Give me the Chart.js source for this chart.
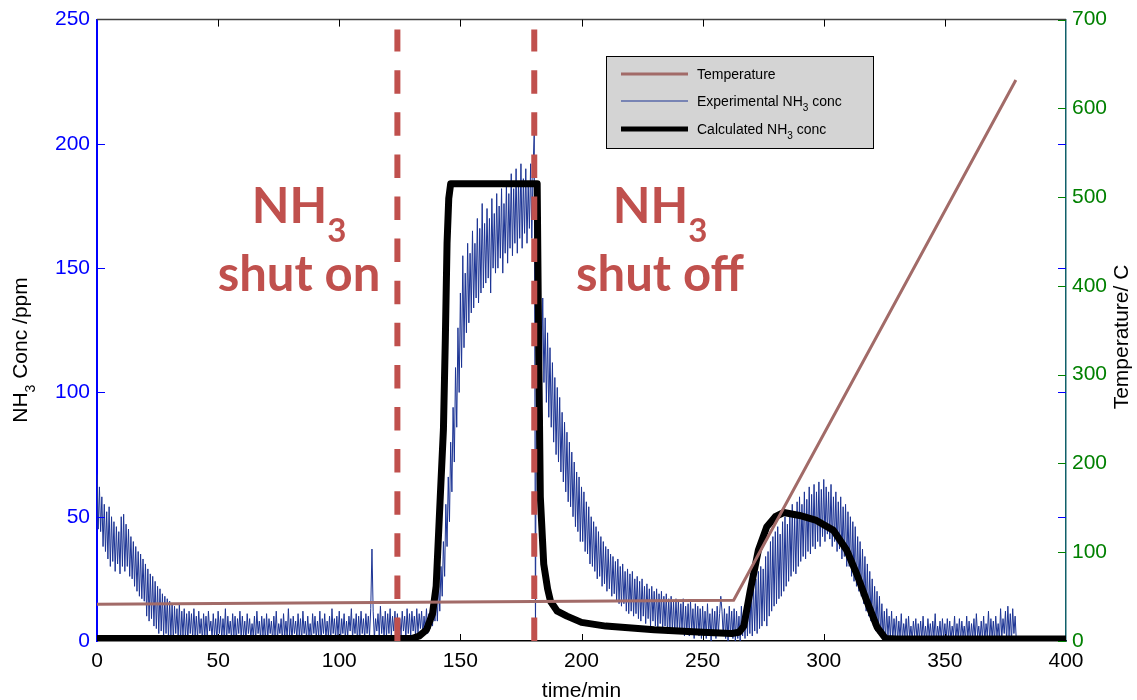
<!DOCTYPE html>
<html>
<head>
<meta charset="utf-8">
<script src="https://cdn.jsdelivr.net/npm/chart.js@4.4.1/dist/chart.umd.min.js"></script>
<style>
  html, body { margin: 0; padding: 0; background: #fff; }
  #wrap { width: 1137px; height: 700px; }
</style>
</head>
<body>
<div id="wrap"><canvas id="c" width="1137" height="700"></canvas></div>
<script>
// NH3 uptake / release: experimental vs calculated concentration, with temperature ramp

// experimental NH3 trace (ppm), one sample every half minute from t = 0
const expStep = 0.5;
const expConc = [
  67,45,62,44,58,38,55,36,52,33,54,30,50,32,48,28,46,31,44,27,
  50,30,51,28,47,30,45,26,42,25,40,22,38,20,36,18,35,17,33,16,
  31,10,29,8,27,9,26,6,24,5,22,3,21,4,19,2,18,3,17,1,
  16,2,15,0,14,3,13,1,15,0,12,2,13,1,11,0,12,3,11,1,
  13,2,10,1,12,3,9,0,11,2,10,1,12,4,8,1,11,2,9,0,
  12,3,10,1,9,2,13,0,10,3,8,1,11,2,10,0,9,3,12,1,
  10,2,8,0,11,3,9,1,7,2,10,0,12,3,8,1,10,2,9,0,
  11,1,9,3,8,0,10,2,12,1,7,3,9,0,11,2,8,1,13,2,
  9,0,10,3,8,1,11,2,9,0,12,3,8,1,10,2,7,0,11,3,
  10,1,8,2,12,0,9,3,11,1,8,2,10,0,13,3,9,1,10,2,
  12,0,9,3,11,1,8,2,10,4,13,1,9,3,11,0,10,2,12,3,
  9,1,11,3,10,2,13,37,12,1,9,4,11,2,14,3,10,1,12,2,
  11,3,13,2,10,4,12,1,11,3,9,2,12,4,10,1,13,3,11,2,
  12,4,10,2,13,3,11,5,12,2,10,4,13,3,11,5,14,6,16,8,
  18,8,24,12,30,18,40,26,55,38,66,48,80,60,94,72,110,86,126,100,
  140,110,155,118,148,124,160,128,156,132,165,134,160,138,170,136,166,140,176,142,
  168,144,174,146,170,140,178,150,172,148,180,150,175,154,182,148,176,156,184,152,
  180,158,188,155,182,160,190,156,185,162,192,158,186,164,190,160,184,166,192,162,
  190,205,0,160,150,125,145,110,138,104,130,96,124,90,118,86,112,80,106,75,
  102,72,98,68,92,64,88,60,84,56,80,54,76,50,72,46,68,44,66,40,
  62,40,60,36,56,35,54,31,50,30,48,28,46,25,44,26,42,22,40,23,
  38,20,37,21,35,18,34,19,32,16,33,15,30,14,31,15,28,12,29,11,
  27,12,28,10,25,11,26,9,24,8,25,10,22,7,23,9,21,6,22,8,
  20,6,21,5,19,7,20,4,18,6,19,3,17,5,18,4,16,3,17,5,
  16,3,15,4,17,2,14,3,15,2,16,4,13,1,15,3,14,2,13,1,
  14,2,12,1,15,3,11,0,13,2,12,1,14,3,11,18,12,2,13,1,
  11,0,14,2,12,1,13,0,12,1,10,0,14,2,12,1,16,2,18,3,
  20,2,23,4,25,3,28,5,30,6,29,8,34,6,36,10,40,12,42,14,
  44,15,46,17,43,18,48,20,50,22,47,24,52,26,55,28,50,27,56,30,
  58,32,55,34,60,33,57,36,62,35,59,38,63,37,60,40,64,38,61,42,
  65,40,62,43,60,41,63,38,58,40,60,36,56,37,58,33,54,34,55,30,
  52,30,50,26,48,24,46,22,42,20,40,18,37,15,34,12,31,10,28,8,
  25,6,22,4,20,3,18,2,15,1,12,0,13,2,10,1,12,0,9,2,
  10,0,8,1,11,0,7,2,9,0,10,1,6,0,8,2,9,0,7,1,
  8,0,10,1,6,0,9,2,7,0,8,1,11,0,6,2,8,0,9,1,
  7,0,9,1,8,0,6,2,10,0,7,1,9,0,8,2,6,0,10,1,
  8,0,7,1,9,0,11,2,6,0,8,1,10,0,7,2,12,0,9,1,
  8,0,10,2,7,0,13,1,9,3,12,0,14,2,11,0,13,3,10,0
];

// calculated NH3 concentration (ppm)
const calcTime = [0, 130, 133, 136, 138.5, 140, 141.7, 143, 143.8, 144.5, 145.2, 146,
  181.7, 182.3, 183, 184.4, 186, 187.2, 190, 194, 200, 210, 230, 250, 262, 265, 267,
  269.6, 273, 276.5, 280, 283.5, 290, 297, 304, 309.5, 313.6, 317.6, 322, 325.5, 330, 400];
const calcConc = [1, 1, 2, 4.5, 11, 22, 58, 85, 122, 160, 178, 184,
  184, 120, 58, 31, 21, 16, 12, 10, 7.5, 6, 4.5, 3.5, 3, 3.5, 6,
  20, 36.5, 46, 50, 51.7, 50.5, 48.5, 44.5, 36.5, 27, 16.5, 5.6, 1, 0.8, 0.8];

// temperature programme (C)
const tempTime = [0, 262.8, 379.3];
const tempC = [41.5, 46, 632];

// NH3 switched on / off (min)
const markerTimes = [124, 180.5];
const markerTop = 246;

const FONT = '"Liberation Sans", Arial, sans-serif';
const RED = '#c0504d';

function pts(xs, ys) {
  return xs.map(function (x, i) { return { x: x, y: ys[i] }; });
}

// text with subscripts; parts = [[text, isSub], ...]
function drawParts(ctx, parts, x, y, size, align) {
  const sub = Math.round(size * 0.68);
  const fam = ctx._fam;
  let total = 0;
  const w = parts.map(function (p) {
    ctx.font = ctx._weight + (p[1] ? sub : size) + 'px ' + fam;
    const m = ctx.measureText(p[0]).width;
    total += m;
    return m;
  });
  let cx = align === 'center' ? x - total / 2 : x;
  ctx.textAlign = 'left';
  ctx.textBaseline = 'alphabetic';
  parts.forEach(function (p, i) {
    ctx.font = ctx._weight + (p[1] ? sub : size) + 'px ' + fam;
    ctx.fillText(p[0], cx, y + (p[1] ? size * 0.38 : 0));
    cx += w[i];
  });
}

const decor = {
  id: 'decor',
  afterDraw: function (chart) {
    const ctx = chart.ctx, a = chart.chartArea;
    const xs = chart.scales.x, ys = chart.scales.y, y2 = chart.scales.y2;
    ctx.save();

    // top frame line
    ctx.strokeStyle = '#404040';
    ctx.lineWidth = 1.5;
    ctx.beginPath(); ctx.moveTo(a.left, a.top); ctx.lineTo(a.right, a.top); ctx.stroke();

    // inward tick marks
    ctx.lineWidth = 1;
    ctx.strokeStyle = '#000';
    for (let t = 50; t < 400; t += 50) {
      const px = Math.round(xs.getPixelForValue(t)) + 0.5;
      ctx.beginPath();
      ctx.moveTo(px, a.bottom); ctx.lineTo(px, a.bottom - 7);
      ctx.moveTo(px, a.top); ctx.lineTo(px, a.top + 7);
      ctx.stroke();
    }
    ctx.strokeStyle = '#0000ff';
    for (let v = 50; v < 250; v += 50) {
      const py = Math.round(ys.getPixelForValue(v)) + 0.5;
      ctx.beginPath();
      ctx.moveTo(a.left, py); ctx.lineTo(a.left + 8, py);
      ctx.moveTo(a.right, py); ctx.lineTo(a.right - 8, py);
      ctx.stroke();
    }
    ctx.strokeStyle = '#008000';
    for (let v = 0; v <= 700; v += 100) {
      const py = Math.round(y2.getPixelForValue(v)) + 0.5;
      ctx.beginPath(); ctx.moveTo(a.right, py); ctx.lineTo(a.right - 8, py); ctx.stroke();
    }

    // annotations
    ctx._fam = 'Lato, "Open Sans", sans-serif';
    ctx._weight = 'bold ';
    ctx.fillStyle = RED;
    const b1 = xs.getPixelForValue(83.4), b2 = xs.getPixelForValue(232.4);
    drawParts(ctx, [['NH', false], ['3', true]], b1, 223, 49, 'center');
    drawParts(ctx, [['shut on', false]], b1, 291, 49, 'center');
    drawParts(ctx, [['NH', false], ['3', true]], b2, 223, 49, 'center');
    drawParts(ctx, [['shut off', false]], b2, 291, 49, 'center');

    // axis titles
    ctx._fam = FONT;
    ctx._weight = '';
    ctx.fillStyle = '#000';
    drawParts(ctx, [['time/min', false]], (a.left + a.right) / 2, 697, 21, 'center');
    ctx.save();
    ctx.translate(27, 350);
    ctx.rotate(-Math.PI / 2);
    drawParts(ctx, [['NH', false], ['3', true], [' Conc /ppm', false]], 0, 0, 21, 'center');
    ctx.restore();
    ctx.save();
    ctx.translate(1128, 337);
    ctx.rotate(-Math.PI / 2);
    drawParts(ctx, [['Temperature/ C', false]], 0, 0, 21, 'center');
    ctx.restore();

    // legend box
    ctx.fillStyle = '#d4d4d4';
    ctx.fillRect(606, 56, 267, 92);
    ctx.strokeStyle = '#000';
    ctx.lineWidth = 1;
    ctx.strokeRect(606.5, 56.5, 267, 92);
    const rows = [
      { y: 74, color: '#a26b68', w: 3, parts: [['Temperature', false]] },
      { y: 101, color: '#1c3494', w: 1, parts: [['Experimental NH', false], ['3', true], [' conc', false]] },
      { y: 129, color: '#000', w: 5, parts: [['Calculated NH', false], ['3', true], [' conc', false]] }
    ];
    rows.forEach(function (r) {
      ctx.strokeStyle = r.color;
      ctx.lineWidth = r.w;
      ctx.beginPath(); ctx.moveTo(621, r.y); ctx.lineTo(688, r.y); ctx.stroke();
      ctx.fillStyle = '#000';
      drawParts(ctx, r.parts, 697, r.y + 5, 14, 'left');
    });

    ctx.restore();
  }
};

const markerSets = markerTimes.map(function (t) {
  return {
    label: 'marker',
    data: pts([t, t], [0, markerTop]),
    yAxisID: 'y',
    borderColor: RED,
    borderWidth: 6,
    borderDash: [23.5, 18.6],
    borderCapStyle: 'butt',
    pointRadius: 0,
    order: 0
  };
});

new Chart(document.getElementById('c').getContext('2d'), {
  type: 'line',
  data: {
    datasets: markerSets.concat([
      {
        label: 'Temperature',
        data: pts(tempTime, tempC),
        yAxisID: 'y2',
        borderColor: '#a26b68',
        borderWidth: 3,
        pointRadius: 0,
        order: 1
      },
      {
        label: 'Calculated NH3 conc',
        data: pts(calcTime, calcConc),
        yAxisID: 'y',
        borderColor: '#000',
        borderWidth: 7,
        borderJoinStyle: 'round',
        pointRadius: 0,
        order: 2
      },
      {
        label: 'Experimental NH3 conc',
        data: expConc.map(function (v, i) { return { x: i * expStep, y: v }; }),
        yAxisID: 'y',
        borderColor: '#1c3494',
        borderWidth: 1,
        pointRadius: 0,
        order: 3
      }
    ])
  },
  options: {
    responsive: false,
    devicePixelRatio: 1,
    animation: false,
    layout: { padding: { top: 18 } },
    plugins: { legend: { display: false }, tooltip: { enabled: false } },
    scales: {
      x: {
        type: 'linear', min: 0, max: 400,
        ticks: { stepSize: 50, color: '#000', padding: 8, maxRotation: 0, autoSkip: false,
                 font: { family: FONT, size: 21 } },
        grid: { display: false, drawTicks: false },
        border: { display: true, color: '#000', width: 1.5 },
        afterFit: function (s) { s.height = 59; }
      },
      y: {
        position: 'left', min: 0, max: 250,
        ticks: { stepSize: 50, color: '#0000ff', padding: 7, font: { family: FONT, size: 21 } },
        grid: { display: false, drawTicks: false },
        border: { display: true, color: '#0000ff', width: 2 },
        afterFit: function (s) { s.width = 97; }
      },
      y2: {
        position: 'right', min: 0, max: 700,
        ticks: { stepSize: 100, color: '#008000', padding: 6, font: { family: FONT, size: 21 } },
        grid: { display: false, drawTicks: false },
        border: { display: true, color: '#10606a', width: 1.5 },
        afterFit: function (s) { s.width = 71; }
      }
    }
  },
  plugins: [decor]
});
</script>
</body>
</html>
